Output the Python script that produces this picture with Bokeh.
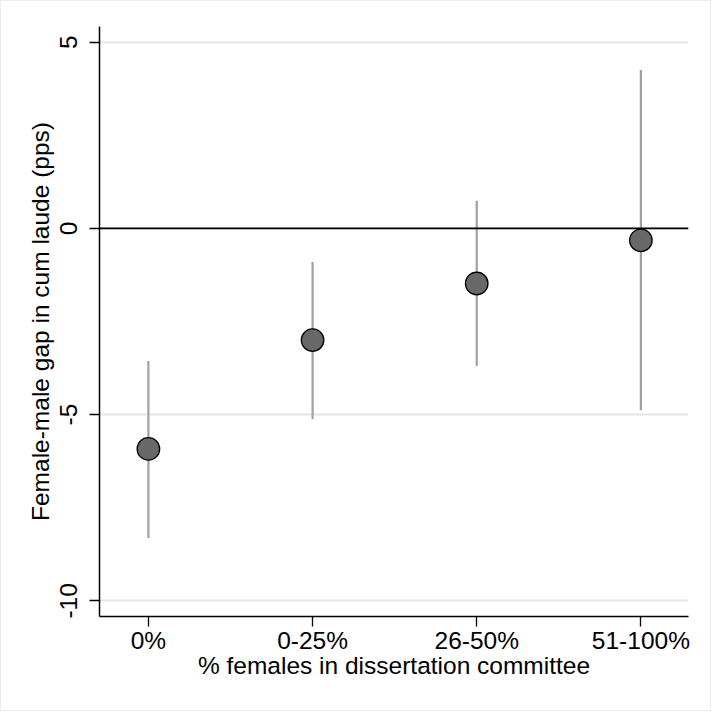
import math
from bokeh.plotting import figure
from bokeh.models import Range1d, FixedTicker, Span, ColumnDataSource
from bokeh.embed import file_html
from bokeh.resources import INLINE

# ---- data ----
categories = ["0%", "0-25%", "26-50%", "51-100%"]
estimates = [-5.92, -3.00, -1.48, -0.32]
ci_low = [-8.31, -5.12, -3.69, -4.88]
ci_high = [-3.56, -0.90, 0.74, 4.25]
y_ticks = [-10, -5, 0, 5]
y_tick_labels = ["-10", "-5", "0", "5"]

xpos = list(range(1, len(categories) + 1))
src = ColumnDataSource(dict(x=xpos, est=estimates, lo=ci_low, hi=ci_high))

FONT = "Liberation Sans"
FS = "24.5px"

p = figure(width=711, height=711, output_backend="svg", toolbar_location=None,
           x_range=Range1d(0.702, 4.29), y_range=Range1d(-10.42, 5.42),
           min_border_left=98, min_border_top=25, min_border_right=24,
           min_border_bottom=96, background_fill_color="white",
           border_fill_color="white")
p.outline_line_color = None

# grid
p.xgrid.visible = False
p.ygrid.ticker = FixedTicker(ticks=y_ticks)
p.ygrid.grid_line_color = "#e6e6e6"
p.ygrid.grid_line_width = 2

# zero line
p.add_layout(Span(location=0, dimension="width", line_color="black", line_width=1.8))

# CIs and points
p.segment(x0="x", y0="lo", x1="x", y1="hi", source=src,
          line_color="#a0a0a0", line_width=2.2)
p.scatter("x", "est", source=src, size=22.5, fill_color="#686868",
          line_color="black", line_width=1.3)

# axes
for ax in (p.xaxis[0], p.yaxis[0]):
    ax.axis_line_color = "black"
    ax.axis_line_width = 1.5
    ax.major_tick_line_color = "black"
    ax.major_tick_line_width = 1.3
    ax.major_tick_out = 10
    ax.major_tick_in = 0
    ax.minor_tick_line_color = None
    ax.major_label_text_font = FONT
    ax.major_label_text_font_size = FS
    ax.major_label_text_color = "black"
    ax.axis_label_text_font = FONT
    ax.axis_label_text_font_size = FS
    ax.axis_label_text_font_style = "normal"
    ax.axis_label_text_color = "black"

p.xaxis.ticker = FixedTicker(ticks=xpos)
p.xaxis.major_label_overrides = {x: c for x, c in zip(xpos, categories)}
p.xaxis.major_label_standoff = 0
p.xaxis.axis_label = "% females in dissertation committee"
p.xaxis.axis_label_standoff = -5

p.yaxis.ticker = FixedTicker(ticks=y_ticks)
p.yaxis.major_label_overrides = {t: s for t, s in zip(y_ticks, y_tick_labels)}
p.yaxis.major_label_orientation = "vertical"
p.yaxis.major_label_standoff = 12
p.yaxis.axis_label = "Female-male gap in cum laude (pps)"
p.yaxis.axis_label_standoff = 4

p.styles = {"border": "1px solid #ececec"}

open("out.html", "w").write(file_html(p, INLINE))
